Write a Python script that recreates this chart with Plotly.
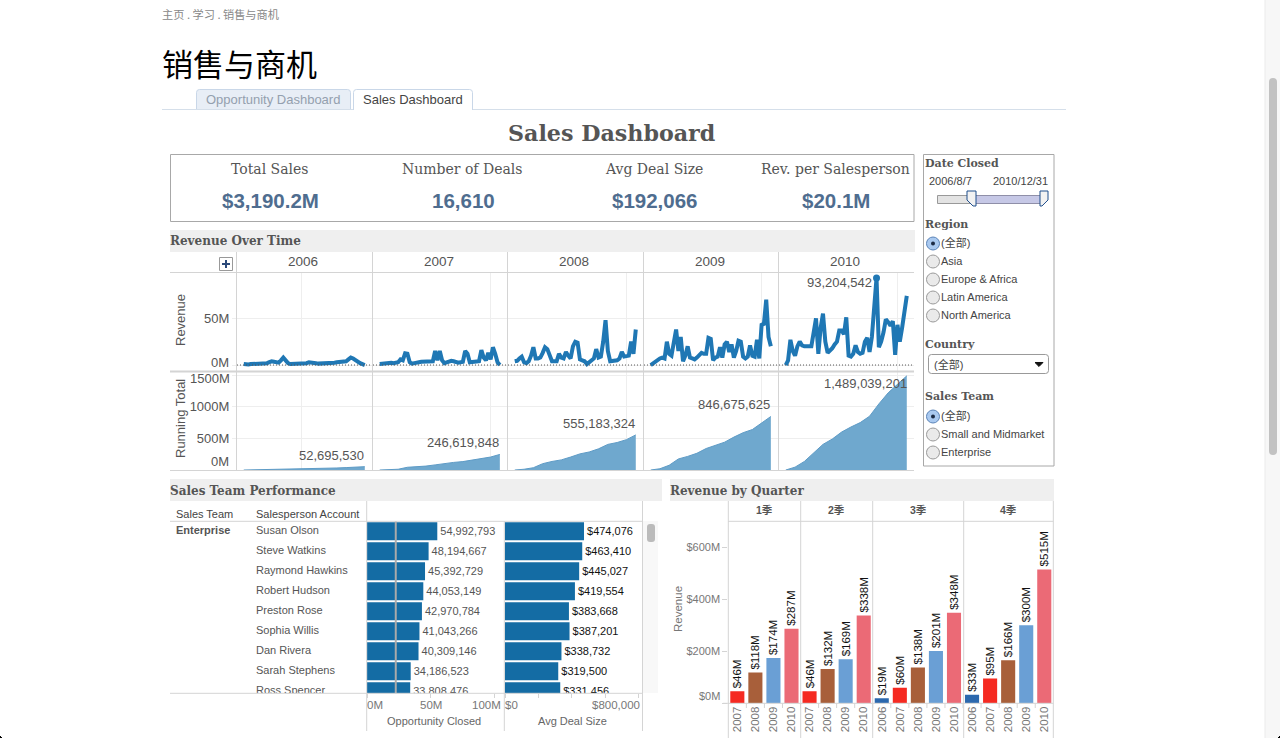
import plotly.graph_objects as go

W = 1280
H = 738
SANS = "Liberation Sans, Noto Sans CJK SC"
SERIF = "DejaVu Serif, Liberation Serif"
CJK = "Noto Sans CJK SC"
GRAY = "#555555"
LINE = "#D4D4D4"
GRID = "#EEEEEE"

years = ["2006", "2007", "2008", "2009", "2010"]

# weekly revenue in millions, one list per year
rev_2006 = [1, 0.5, 0.5, 1, 1, 1, 1, 1.5, 1.5, 1.5, 2, 3, 4, 3.5, 3, 2.5, 5, 8, 5, 2, 1, 1, 1, 1, 1, 1, 1.5, 2, 3, 3,
            2.5, 2, 1.5, 1.5, 1.5, 1.5, 1.5, 2, 2, 2.5, 3, 3.5, 3.5, 3.5, 4, 6, 8, 7, 5, 3.5, 2, 1, 0]
rev_2007 = [1, 1.5, 2, 2, 2, 2.5, 2, 3, 3, 6, 5, 12.5, 12, 3, 1.5, 2, 3, 3, 3.5, 3.5, 3.5, 4, 3.5, 4, 15, 5, 15, 5, 2, 3,
            3.5, 4.5, 4, 3, 2.5, 3, 3.5, 15, 12, 3, 3, 4, 4, 4, 16, 8, 5, 13, 6, 19, 12, 3, 0]
rev_2008 = [4, 4.5, 7, 9, 3, 2, 4, 10, 19, 7, 7, 8, 13, 19, 17, 9, 4, 4, 4, 12, 8, 7, 14, 10, 7, 20, 25, 24, 6, 5,
            4, 1, 3, 6, 7, 17, 8, 9, 25, 48, 15, 4, 4, 5, 5, 7, 14, 9, 10, 10, 25, 12, 38]
rev_2009 = [0, 2, 4, 6, 7, 8, 7, 25, 12, 10, 25, 38, 15, 30, 4, 10, 20, 8, 7, 6, 8, 11, 13, 12, 12, 29, 28, 5, 8, 9,
            19, 8, 22, 25, 14, 22, 8, 15, 26, 25, 9, 7, 9, 21, 10, 9, 27, 7, 43, 44, 70, 30, 20]
rev_2010 = [0, 5, 27, 15, 10, 20, 25, 21, 20, 20, 19, 20, 35, 50, 12, 40, 55, 25, 13, 15, 18, 22, 25, 37, 37, 33, 51, 10, 9, 12,
            21, 14, 12, 13, 25, 29, 14, 30, 60, 93.2, 19, 25, 35, 49, 46, 42, 47, 11, 43, 25, 40, 55, 74]
rev_series = [rev_2006, rev_2007, rev_2008, rev_2009, rev_2010]
grid_weeks = [25, 48, 48, 48, 48]
peak_week = [39]
peak_value = [93.2]

# running total in millions, read every fourth week
run_weeks = [0, 4, 8, 12, 16, 20, 24, 28, 32, 36, 40, 44, 48, 52]
run_2006 = [0, 2, 4, 6, 9, 12, 15, 19, 23, 27, 32, 38, 45, 52.7]
run_2007 = [0, 3, 12, 43, 50, 62, 81, 105, 120, 133, 155, 175, 205, 246.6]
run_2008 = [0, 12, 36, 100, 135, 160, 205, 255, 285, 335, 405, 435, 480, 555.2]
run_2009 = [0, 20, 75, 175, 215, 265, 340, 385, 440, 520, 590, 640, 750, 846.7]
run_2010 = [0, 45, 135, 270, 405, 490, 600, 680, 750, 850, 1045, 1220, 1350, 1489]
run_series = [run_2006, run_2007, run_2008, run_2009, run_2010]
run_labels = ["52,695,530", "246,619,848", "555,183,324", "846,675,625", "1,489,039,201"]

kpi_titles = ["Total Sales", "Number of Deals", "Avg Deal Size", "Rev. per Salesperson"]
kpi_values = ["$3,190.2M", "16,610", "$192,066", "$20.1M"]

people = ["Susan Olson", "Steve Watkins", "Raymond Hawkins", "Robert Hudson", "Preston Rose",
          "Sophia Willis", "Dan Rivera", "Sarah Stephens", "Ross Spencer"]
opportunity = [54992793, 48194667, 45392729, 44053149, 42970784, 41043266, 40309146, 34186523, 33808476]
deal_size = [474076, 463410, 445027, 419554, 383668, 387201, 338732, 319500, 331456]
opportunity_avg = [22500000]

quarters = ["1季", "2季", "3季", "4季"]
quarter_years = ["2007", "2008", "2009", "2010", "2007", "2008", "2009", "2010",
                 "2006", "2007", "2008", "2009", "2010", "2006", "2007", "2008", "2009", "2010"]
quarter_rev = [46, 118, 174, 287, 46, 132, 169, 338, 19, 60, 138, 201, 348, 33, 95, 166, 300, 515]
year_colors = {"2006": "#2B68AE", "2007": "#F52A21", "2008": "#A85F3A", "2009": "#6A9FD5", "2010": "#EB6A76"}

regions = ["(全部)", "Asia", "Europe & Africa", "Latin America", "North America"]
teams = ["(全部)", "Small and Midmarket", "Enterprise"]


def px(x):
    return x / W


def py(y):
    return 1 - y / H


def dom_x(a, b):
    return [a / W, b / W]


def dom_y(top, bottom):
    return [1 - bottom / H, 1 - top / H]


annotations = []
shapes = []


def txt(x, y, text, size=12, color=GRAY, anchor="left", family=SANS, angle=0):
    nudge = {"left": -1, "right": 1, "center": 0}[anchor]
    annotations.append(dict(x=px(x + nudge), y=py(y), xref="paper", yref="paper", text=text, showarrow=False,
                            xanchor=anchor, yanchor="middle", textangle=angle, borderpad=0,
                            font=dict(size=size, color=color, family=family)))


def rect(x0, y0, x1, y1, fill="rgba(0,0,0,0)", line=None, width=1, layer="below"):
    shapes.append(dict(type="rect", xref="paper", yref="paper", x0=px(x0), x1=px(x1), y0=py(y0), y1=py(y1),
                       fillcolor=fill, line=dict(color=line or fill, width=width if line else 0), layer=layer))


def seg(x0, y0, x1, y1, color=LINE, width=1, layer="above"):
    shapes.append(dict(type="line", xref="paper", yref="paper", x0=px(x0), x1=px(x1), y0=py(y0), y1=py(y1),
                       line=dict(color=color, width=width), layer=layer))


def poly(points, fill, line=None, width=1):
    path = "M " + " L ".join(f"{px(a):.5f},{py(b):.5f}" for a, b in points) + " Z"
    shapes.append(dict(type="path", xref="paper", yref="paper", path=path, fillcolor=fill,
                       line=dict(color=line or fill, width=width), layer="above"))


def rounded(x0, y0, x1, y1, r, fill, line=None):
    p = (f"M {px(x0 + r):.5f},{py(y0):.5f} L {px(x1 - r):.5f},{py(y0):.5f} "
         f"Q {px(x1):.5f},{py(y0):.5f} {px(x1):.5f},{py(y0 + r):.5f} L {px(x1):.5f},{py(y1 - r):.5f} "
         f"Q {px(x1):.5f},{py(y1):.5f} {px(x1 - r):.5f},{py(y1):.5f} L {px(x0 + r):.5f},{py(y1):.5f} "
         f"Q {px(x0):.5f},{py(y1):.5f} {px(x0):.5f},{py(y1 - r):.5f} L {px(x0):.5f},{py(y0 + r):.5f} "
         f"Q {px(x0):.5f},{py(y0):.5f} {px(x0 + r):.5f},{py(y0):.5f} Z")
    shapes.append(dict(type="path", xref="paper", yref="paper", path=p, fillcolor=fill,
                       line=dict(color=line or fill, width=1 if line else 0), layer="above"))


def tab(x0, y0, x1, y1, fill, line):
    r = 3
    p = (f"M {px(x0):.5f},{py(y1):.5f} L {px(x0):.5f},{py(y0 + r):.5f} "
         f"Q {px(x0):.5f},{py(y0):.5f} {px(x0 + r):.5f},{py(y0):.5f} L {px(x1 - r):.5f},{py(y0):.5f} "
         f"Q {px(x1):.5f},{py(y0):.5f} {px(x1):.5f},{py(y0 + r):.5f} L {px(x1):.5f},{py(y1):.5f}")
    shapes.append(dict(type="path", xref="paper", yref="paper", path=p, fillcolor=fill,
                       line=dict(color=line, width=1), layer="below"))


def radio(y, selected=False):
    shapes.append(dict(type="circle", xref="paper", yref="paper", x0=px(926.5), x1=px(939.5), y0=py(y - 6.5), y1=py(y + 6.5),
                       fillcolor="#A9C9F0" if selected else "#EAEAEA",
                       line=dict(color="#5B84B8" if selected else "#9A9A9A", width=1), layer="above"))
    if selected:
        shapes.append(dict(type="circle", xref="paper", yref="paper", x0=px(931), x1=px(935), y0=py(y - 2), y1=py(y + 2),
                           fillcolor="#1B2A44", line=dict(width=0), layer="above"))


fig = go.Figure()
layout_axes = {}

# revenue and running total small multiples
panel_edges = [(237, 372), (373, 507), (508, 643), (644, 778), (779, 914)]
WEEK_RANGE = [-2.9, 55.1]
for i, (left, right) in enumerate(panel_edges):
    n = i + 1
    xa = "x" if n == 1 else f"x{n}"
    xr = f"x{n + 5}"
    fig.add_trace(go.Scatter(x=list(range(len(rev_series[i]))), y=rev_series[i], mode="lines", xaxis=xa, yaxis="y",
                             line=dict(color="#1F77B4", width=4), showlegend=False))
    fig.add_trace(go.Scatter(x=run_weeks, y=run_series[i], mode="lines", xaxis=xr, yaxis="y2", fill="tozeroy",
                             fillcolor="#6FA8CE", line=dict(color="#5E9BC6", width=1), showlegend=False))
    for key in [("xaxis" if n == 1 else f"xaxis{n}"), f"xaxis{n + 5}"]:
        layout_axes[key] = dict(domain=dom_x(left, right), range=WEEK_RANGE, tickvals=[grid_weeks[i]], showticklabels=False,
                                ticks="", showgrid=True, gridcolor=GRID, zeroline=False, showline=False)
    layout_axes["xaxis" if n == 1 else f"xaxis{n}"]["anchor"] = "y"
    layout_axes[f"xaxis{n + 5}"]["anchor"] = "y2"
    shapes.append(dict(type="line", xref=xa, yref="y", x0=WEEK_RANGE[0], x1=WEEK_RANGE[1], y0=0, y1=0,
                       line=dict(color="#555555", width=1, dash="1px,2px"), layer="above"))
    txt((left + right) / 2 - 1.2, 261, years[i], size=13.5, anchor="center")
    annotations.append(dict(x=52, y=run_series[i][-1], xref=xr, yref="y2", text=run_labels[i], showarrow=False,
                            xanchor="right", yanchor="bottom" if i < 4 else "top", yshift=3 if i < 4 else 1,
                            xshift=0 if i < 4 else 1, borderpad=0,
                            font=dict(size=13, color=GRAY, family=SANS)))

fig.add_trace(go.Scatter(x=peak_week, y=peak_value, mode="markers", xaxis="x5", yaxis="y",
                         marker=dict(color="#1F77B4", size=7), showlegend=False))
annotations.append(dict(x=peak_week[0], y=peak_value[0], xref="x5", yref="y", text="93,204,542", showarrow=False,
                        xanchor="right", yanchor="middle", xshift=-4, yshift=-5, borderpad=0,
                        font=dict(size=13, color=GRAY, family=SANS)))

layout_axes["yaxis"] = dict(domain=dom_y(273, 371), range=[-6.4, 98.5], tickvals=[0, 50], ticktext=["", "50M"], anchor="x",
                            ticks="outside", ticklen=4, tickcolor=GRID, showgrid=True, gridcolor=GRID, zeroline=False,
                            showline=False, tickfont=dict(size=13, color=GRAY, family=SANS))
layout_axes["yaxis2"] = dict(domain=dom_y(372, 470), range=[0, 1550], tickvals=[0, 500, 1000, 1500], ticktext=["", "500M", "1000M", ""],
                             anchor="x6", ticks="outside", ticklen=4, tickcolor=GRID, showgrid=True, gridcolor=GRID, zeroline=False,
                             showline=False, tickfont=dict(size=13, color=GRAY, family=SANS))
txt(229, 362.5, "0M", size=13, anchor="right")
txt(229, 461.5, "0M", size=13, anchor="right")
txt(230, 378, "1500M", size=13, anchor="right")
txt(180, 320, "Revenue", size=13, anchor="center", angle=-90)
txt(180, 419, "Running Total", size=13, anchor="center", angle=-90)

# sales team table and bars
rows = list(range(len(people)))
ROW_RANGE = [8.1, -0.5]
fig.add_trace(go.Scatter(x=[86] * len(people), y=rows, text=people, mode="text", textposition="middle right",
                         textfont=dict(size=11, color=GRAY, family=SANS), xaxis="x11", yaxis="y3", showlegend=False))
fig.add_trace(go.Scatter(x=[6], y=[0], text=["<b>Enterprise</b>"], mode="text", textposition="middle right",
                         textfont=dict(size=11, color=GRAY, family=SANS), xaxis="x11", yaxis="y3", showlegend=False))
fig.add_trace(go.Bar(x=opportunity, y=rows, orientation="h", width=0.9, marker=dict(color="#146CA4", line=dict(width=0)),
                     text=[f"{v:,}" for v in opportunity], textposition="outside", constraintext="none",
                     textfont=dict(size=11, color=GRAY, family=SANS), xaxis="x12", yaxis="y3", showlegend=False))
fig.add_trace(go.Bar(x=deal_size, y=rows, orientation="h", width=0.9, marker=dict(color="#146CA4", line=dict(width=0)),
                     text=[f"${v:,}" for v in deal_size], textposition="outside", constraintext="none",
                     textfont=dict(size=11, color="#111111", family=SANS), xaxis="x13", yaxis="y3", showlegend=False))
hidden = dict(showticklabels=False, showgrid=False, zeroline=False, showline=False, ticks="")
layout_axes["xaxis11"] = dict(domain=dom_x(170, 366), range=[0, 196], anchor="y3", **hidden)
layout_axes["xaxis12"] = dict(domain=dom_x(367, 503), range=[0, 106400000], anchor="y3", tickvals=[0, 50000000, 100000000],
                              showticklabels=False, showgrid=False, zeroline=False, ticks="outside", ticklen=4, tickcolor=LINE)
layout_axes["xaxis13"] = dict(domain=dom_x(505, 642), range=[0, 822000], anchor="y3", tickvals=[0, 200000, 400000, 600000, 800000],
                              showticklabels=False, showgrid=False, zeroline=False, ticks="outside", ticklen=4, tickcolor=LINE)
layout_axes["yaxis3"] = dict(domain=dom_y(521.3, 693.3), range=ROW_RANGE, anchor="x11", **hidden)
shapes.append(dict(type="line", xref="x12", yref="paper", x0=opportunity_avg[0], x1=opportunity_avg[0], y0=py(693), y1=py(521),
                   line=dict(color="#AAAAAA", width=2), layer="above"))
txt(176, 514, "Sales Team", size=11, color="#444444")
txt(256, 514, "Salesperson Account", size=11, color="#444444")
txt(367, 705, "0M", size=11.5, color="#777777")
txt(431, 705, "50M", size=11.5, color="#777777", anchor="center")
txt(501, 705, "100M", size=11.5, color="#777777", anchor="right")
txt(505, 705, "$0", size=11.5, color="#777777")
txt(640, 705, "$800,000", size=11.5, color="#777777", anchor="right")
txt(434, 721, "Opportunity Closed", size=11, color="#666666", anchor="center")
txt(572, 721, "Avg Deal Size", size=11, color="#666666", anchor="center")

# revenue by quarter
slots = list(range(len(quarter_rev)))
fig.add_trace(go.Bar(x=slots, y=quarter_rev, width=0.78, marker=dict(color=[year_colors[y] for y in quarter_years], line=dict(width=0)),
                     text=[f"${v}M" for v in quarter_rev], textposition="outside", textangle=-90, constraintext="none",
                     textfont=dict(size=11.5, color="#111111", family=SANS), xaxis="x14", yaxis="y4", showlegend=False))
layout_axes["xaxis14"] = dict(domain=dom_x(728.3, 1053.3), range=[-0.5, 17.5], anchor="y4", tickvals=slots, ticktext=quarter_years,
                              tickangle=-90, ticks="", showgrid=False, zeroline=False, showline=False,
                              tickfont=dict(size=11.5, color="#777777", family=SANS))
layout_axes["yaxis4"] = dict(domain=dom_y(521.3, 703.3), range=[0, 700], anchor="x14", tickvals=[0, 200, 400, 600],
                             ticktext=["", "$200M", "$400M", "$600M"], ticks="outside", ticklen=5, tickcolor=LINE, showgrid=False,
                             zeroline=False, showline=False, tickfont=dict(size=11, color="#777777", family=SANS))
txt(720, 695.5, "$0M", size=11, color="#777777", anchor="right")
txt(678, 609, "Revenue", size=11.5, color="#777777", anchor="center", angle=-90)
quarter_edges = [728.3, 800.7, 872.7, 963.7, 1053.3]
for i, q in enumerate(quarters):
    txt((quarter_edges[i] + quarter_edges[i + 1]) / 2, 510, f"<b>{q}</b>", size=10.5, color="#555555", anchor="center")
for edge in quarter_edges:
    seg(edge, 501, edge, 738)
seg(728, 521.3, 1053.3, 521.3)
seg(723, 703.3, 1053.3, 703.3)
for s in slots[:-1]:
    shapes.append(dict(type="line", xref="x14", yref="paper", x0=s + 0.5, x1=s + 0.5, y0=py(703.3), y1=py(708),
                       line=dict(color=LINE, width=1), layer="above"))

# page header
txt(162, 14, "主页 . 学习 . 销售与商机", size=11.2, color="#888888", family=CJK)
txt(162, 63, "销售与商机", size=31, color="#000000", family=CJK)
tab(196.5, 89.5, 350.5, 109.5, "#E8EEF6", "#C9D7E8")
tab(353.5, 89.5, 472.5, 110, "#FFFFFF", "#C9D7E8")
seg(162, 109.5, 353, 109.5, color="#D5DFEA", layer="below")
seg(473, 109.5, 1066, 109.5, color="#D5DFEA", layer="below")
txt(273, 99.5, "Opportunity Dashboard", size=13, color="#94A0AE", anchor="center")
txt(413, 99.5, "Sales Dashboard", size=13, color="#444444", anchor="center")
txt(611.5, 133, "<b>Sales Dashboard</b>", size=22.2, family=SERIF, anchor="center")

# kpi strip
rect(170.5, 154.5, 914, 221.5, fill="#FFFFFF", line="#A8A8A8")
kpi_x = [269, 462, 653.5, 835]
for i in range(4):
    txt(kpi_x[i], 169, kpi_titles[i], size=14, family=SERIF, anchor="center")
    txt(kpi_x[i] + 1, 200.5, f"<b>{kpi_values[i]}</b>", size=20.5, color="#4F6D8F", anchor="center")

# section bands
rect(170, 230, 915, 252, fill="#EFEFEF")
rect(170, 479, 662, 501, fill="#EFEFEF")
rect(670, 479, 1054, 501, fill="#EFEFEF")
txt(170, 241.5, "<b>Revenue Over Time</b>", size=12, family=SERIF)
txt(170, 490.5, "<b>Sales Team Performance</b>", size=12, family=SERIF)
txt(670, 490.5, "<b>Revenue by Quarter</b>", size=12, family=SERIF)

# revenue panel rules
seg(170, 272.5, 914, 272.5)
seg(170, 371.5, 914, 371.5, width=2)
seg(170, 470.5, 914, 470.5)
for x in [236.5, 372.5, 507.5, 643.5, 778.5]:
    seg(x, 252, x, 470)
rect(219.5, 257.5, 232.5, 270.5, fill="#FFFFFF", line="#999999", layer="above")
seg(222, 264, 230, 264, color="#2B4A7A", width=2)
seg(226, 260, 226, 268, color="#2B4A7A", width=2)

# team panel rules
seg(170, 521.3, 642.5, 521.3)
seg(170, 693.3, 642.5, 693.3)
seg(366.7, 501, 366.7, 731)
seg(504.3, 521, 504.3, 731)
seg(642.5, 501, 642.5, 731)
rect(643, 521, 658, 693, fill="#F8F8F8")
rounded(647, 524, 655, 542, 3, "#BBBBBB")

# filter column
rect(923.5, 154.5, 1054, 466, fill="#FFFFFF", line="#A8A8A8")
txt(925, 163, "<b>Date Closed</b>", size=11, family=SERIF)
txt(929, 181, "2006/8/7", size=11, color="#444444")
txt(1048, 181, "2010/12/31", size=11, color="#444444", anchor="right")
rect(937.5, 195.5, 971, 203.5, fill="#E3E3E3", line="#999999", layer="above")
rect(971, 195.5, 1041, 203.5, fill="#C6C8E6", line="#8F8FA8", layer="above")
poly([(967, 191), (976, 191), (976, 206), (973, 206), (967, 200)], "#F2F2F2", line="#1F4E8C")
poly([(1040, 191), (1048, 191), (1048, 200), (1042, 206), (1040, 206)], "#F2F2F2", line="#1F4E8C")
txt(925, 224, "<b>Region</b>", size=11, family=SERIF)
for i, r in enumerate(regions):
    y = 243.5 + i * 18
    radio(y, selected=i == 0)
    txt(941, y - 0.7, r, size=11, color="#444444")
txt(925, 344, "<b>Country</b>", size=11, family=SERIF)
rounded(928.5, 354.5, 1048.5, 373.5, 3, "#FFFFFF", line="#999999")
txt(934, 364, "(全部)", size=11, color="#444444")
poly([(1035, 362.5), (1043, 362.5), (1039, 366.5)], "#111111")
txt(925, 396.5, "<b>Sales Team</b>", size=11, family=SERIF)
for i, r in enumerate(teams):
    y = 416.5 + i * 18
    radio(y, selected=i == 0)
    txt(941, y - 0.7, r, size=11, color="#444444")

# browser scrollbar and window corners
rect(1265, 0, 1280, 738, fill="#F7F7F7")
seg(1265, 0, 1265, 738, color="#EBEBEB")
rounded(1269, 78, 1277, 455, 4, "#C2C2C2")
rect(0, 736, 1, 738, fill="#000000", layer="above")
rect(1, 737, 2, 738, fill="#000000", layer="above")
rect(1279, 736, 1280, 738, fill="#000000", layer="above")
rect(1278, 737, 1279, 738, fill="#000000", layer="above")

fig.update_layout(
    width=W,
    height=H,
    margin=dict(l=0, r=0, t=0, b=0),
    paper_bgcolor="#FFFFFF",
    plot_bgcolor="rgba(0,0,0,0)",
    showlegend=False,
    font=dict(family=SANS, color=GRAY),
    annotations=annotations,
    shapes=shapes,
    **layout_axes,
)

fig.write_html("out.html", config={"displayModeBar": False},
               post_script="document.body.style.margin='0';document.body.style.overflow='hidden';")
